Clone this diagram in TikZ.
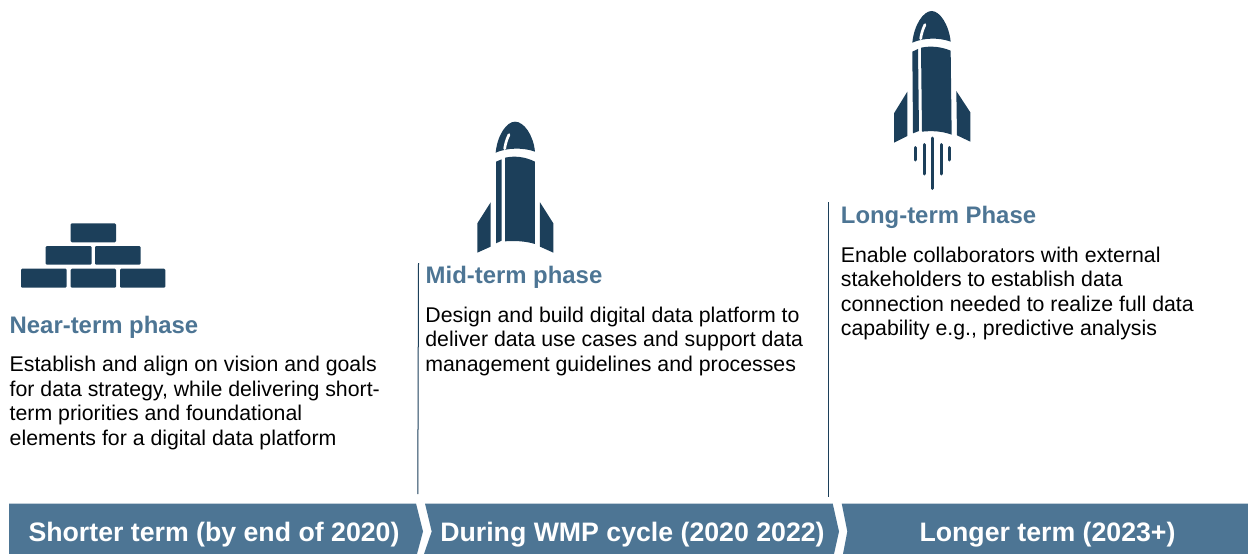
\documentclass[tikz,border=0pt]{standalone}
\usepackage{fontspec}
\setmainfont{Liberation Sans}
\definecolor{navy}{HTML}{1C3F5A}
\definecolor{steel}{HTML}{4D7594}
\tikzset{
  x=1pt,y=-1pt,
  body/.style={anchor=north west,align=left,inner sep=0pt,text=black,font=\fontsize{21.3}{24.45}\selectfont},
  head/.style={anchor=west,inner sep=0pt,text=steel,font=\fontsize{23.9}{28}\selectfont\bfseries},
  barlabel/.style={anchor=center,inner sep=0pt,text=white,font=\fontsize{26.7}{32}\selectfont\bfseries},
  bar/.style={fill=steel,draw=none},
  divider/.style={draw=navy,line width=1pt},
  brick/.style={fill=navy,draw=none,rounded corners=1.2pt},
  flame/.style={draw=navy,line width=3pt,line cap=round},
  crop/.style={x=0.3333pt,y=-0.3333pt},
}
\begin{document}
\begin{tikzpicture}
\useasboundingbox (0,0) rectangle (1248,554);
% bricks
\fill[brick] (70.7,223.3) rectangle (116,242.3);
\fill[brick] (45.7,246) rectangle (91.7,264.7);
\fill[brick] (95,246) rectangle (140.7,264.7);
\fill[brick] (21,268.7) rectangle (66.7,287.7);
\fill[brick] (70.7,268.7) rectangle (116,287.7);
\fill[brick] (120,268.7) rectangle (165.3,287.7);
% mid-term rocket
\begin{scope}[shift={(460,110)},crop]
  \fill[navy] (107,128) .. controls (112,75) and (140,35) .. (165,35) .. controls (192,35) and (220,75) .. (225,125) .. controls (190,112) and (140,113) .. cycle;
  \draw[white,line width=2.7pt,line cap=round] (147,74) .. controls (140,88) and (136,102) .. (134,116);
  \fill[navy] (108,155) -- (125,148) -- (125,392) -- (108,400) -- cycle;
  \fill[navy] (135,143) .. controls (165,137) and (195,140) .. (225,155) -- (225,402) .. controls (195,393) and (165,392) .. (135,394) -- cycle;
  \fill[navy] (92,277) -- (92,410) -- (52,428) -- (52,340) -- cycle;
  \fill[navy] (240,277) -- (240,410) -- (280,428) -- (280,340) -- cycle;
\end{scope}
% long-term rocket
\begin{scope}[shift={(880,0)},crop]
  \fill[navy] (97,128) .. controls (102,75) and (130,33) .. (155,33) .. controls (180,33) and (207,75) .. (212,125) .. controls (178,112) and (130,113) .. cycle;
  \draw[white,line width=2.7pt,line cap=round] (135,74) .. controls (128,88) and (124,102) .. (122,116);
  \fill[navy] (97,155) -- (114,147) -- (117,393) -- (99,400) -- cycle;
  \fill[navy] (123,143) .. controls (153,137) and (183,140) .. (212,152) -- (215,404) .. controls (185,393) and (155,392) .. (126,395) -- cycle;
  \fill[navy] (82,275) -- (82,408) -- (42,428) -- (42,340) -- cycle;
  \fill[navy] (229,273) -- (231,406) -- (271,425) -- (271,337) -- cycle;
\end{scope}
\draw[flame] (915.7,147.5) -- (915.7,160);
\draw[flame] (924,144.5) -- (924,174);
\draw[flame] (932.3,138) -- (932.3,188.5);
\draw[flame] (941,144.5) -- (941,174);
\draw[flame] (949.3,147.5) -- (949.3,160);
% dividers
\coordinate (d1a) at (418.5,263); \coordinate (d1b) at (417.8,494);
\coordinate (d2a) at (828.8,202); \coordinate (d2b) at (828.8,497);
\draw[divider] (d1a) -- (d1b);
\draw[divider] (d2a) -- (d2b);
% text
\node[head] (h1) at (9.5,327.5) {Near-term phase};
\node[body] (t1) at (9.5,356.3) {Establish and align on vision and goals\\for data strategy, while delivering short-\\term priorities and foundational\\elements for a digital data platform};
\node[head] (h2) at (425.5,277.5) {Mid-term phase};
\node[body] (t2) at (425.2,306.5) {Design and build digital data platform to\\deliver data use cases and support data\\management guidelines and processes};
\node[head] (h3) at (840.7,217.5) {Long-term Phase};
\node[body] (t3) at (840.7,246.5) {Enable collaborators with external\\stakeholders to establish data\\connection needed to realize full data\\capability e.g., predictive analysis};
% bars
\fill[bar] (9,503.5) -- (416,503.5) -- (423,531.5) -- (417,554) -- (9,554) -- cycle;
\fill[bar] (425,503.5) -- (832.7,503.5) -- (839,531.5) -- (834,554) -- (424,554) -- (431.7,531.5) -- cycle;
\fill[bar] (841.7,503.5) -- (1248,503.5) -- (1248,554) -- (843,554) -- (847.3,531.5) -- cycle;
\node[barlabel] (b1) at (214,534.5) {Shorter term (by end of 2020)};
\node[barlabel] (b2) at (632.5,534.5) {During WMP cycle (2020 2022)};
\node[barlabel] (b3) at (1047.5,534.5) {Longer term (2023+)};
\end{tikzpicture}
\end{document}
